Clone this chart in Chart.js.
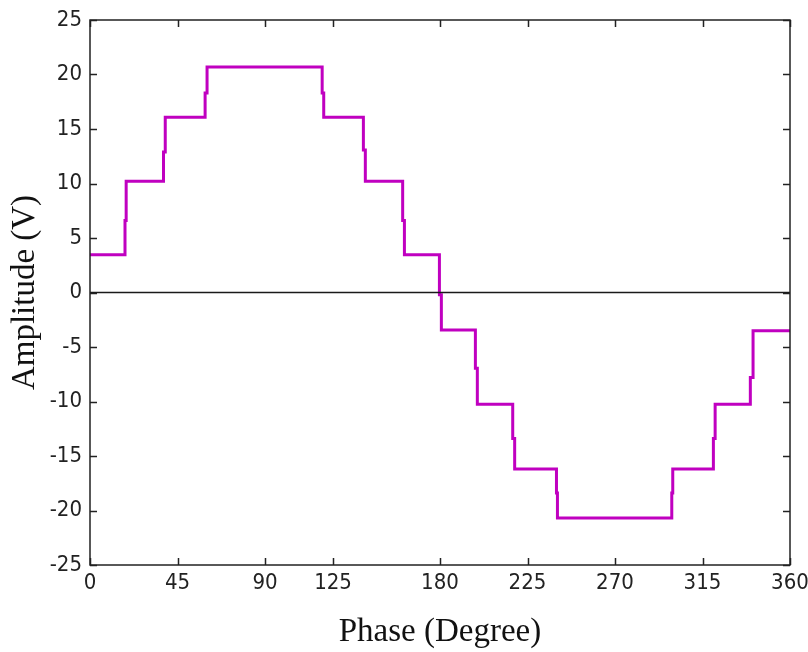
<!DOCTYPE html>
<html>
<head>
<meta charset="utf-8">
<title>Phase vs Amplitude</title>
<script src="https://cdn.jsdelivr.net/npm/chart.js@4/dist/chart.umd.min.js"></script>
<style>
  html, body { margin: 0; padding: 0; background: #fff; }
  #wrap { width: 808px; height: 652px; }
</style>
</head>
<body>
<div id="wrap"><canvas id="waveChart" width="808" height="652"></canvas></div>
<script>
// Staircase waveform, one period (degrees vs volts)
const phaseDeg = [
    0, 18.0, 18.0, 18.6, 18.6,
    37.8, 37.8, 38.7, 38.7,
    59.2, 59.2, 60.2, 60.2,
    119.4, 119.4, 120.2, 120.2,
    140.6, 140.6, 141.6, 141.6,
    160.8, 160.8, 161.7, 161.7,
    179.7, 179.7, 180.7, 180.7,
    198.2, 198.2, 199.2, 199.2,
    217.4, 217.4, 218.4, 218.4,
    239.9, 239.9, 240.4, 240.4,
    299.2, 299.2, 299.7, 299.7,
    320.6, 320.6, 321.5, 321.5,
    339.6, 339.6, 341.0, 341.0,
    360
];
const amplitudeV = [
    3.47, 3.47, 6.6, 6.6, 10.2,
    10.2, 12.9, 12.9, 16.08,
    16.08, 18.3, 18.3, 20.68,
    20.68, 18.3, 18.3, 16.08,
    16.08, 13.07, 13.07, 10.2,
    10.2, 6.6, 6.6, 3.47,
    3.47, -0.2, -0.2, -3.43,
    -3.43, -6.96, -6.96, -10.25,
    -10.25, -13.4, -13.4, -16.2,
    -16.2, -18.4, -18.4, -20.68,
    -20.68, -18.4, -18.4, -16.2,
    -16.2, -13.4, -13.4, -10.25,
    -10.25, -7.8, -7.8, -3.5,
    -3.5
];

// Zero reference line
const zeroPhase = [0, 360];
const zeroAmp = [0, 0];

const xTickValues = [0, 45, 90, 125, 180, 225, 270, 315, 360];
const xTickLabels = ['0', '45', '90', '125', '180', '225', '270', '315', '360'];

const tickFont = { family: "'Liberation Sans Narrow', 'DejaVu Sans Condensed', 'Liberation Sans', sans-serif", size: 22 };
const titleFont = { family: "'Liberation Serif', 'DejaVu Serif', serif", size: 33 };

// Box frame with inward tick marks on all four sides
const framePlugin = {
    id: 'frame',
    afterDraw(chart) {
        const { ctx, chartArea: a, scales } = chart;
        const len = 7;
        ctx.save();
        ctx.strokeStyle = '#222';
        ctx.lineWidth = 1.5;
        ctx.beginPath();
        scales.x.ticks.forEach(t => {
            const px = Math.round(scales.x.getPixelForValue(t.value)) + 0.5;
            ctx.moveTo(px, a.bottom); ctx.lineTo(px, a.bottom - len);
            ctx.moveTo(px, a.top); ctx.lineTo(px, a.top + len);
        });
        scales.y.ticks.forEach(t => {
            const py = Math.round(scales.y.getPixelForValue(t.value)) + 0.5;
            ctx.moveTo(a.left, py); ctx.lineTo(a.left + len, py);
            ctx.moveTo(a.right, py); ctx.lineTo(a.right - len, py);
        });
        ctx.stroke();
        ctx.strokeRect(a.left, a.top, a.right - a.left, a.bottom - a.top);
        ctx.restore();
    }
};

new Chart(document.getElementById('waveChart').getContext('2d'), {
    type: 'line',
    data: {
        datasets: [
            {
                label: 'zero',
                data: zeroPhase.map((p, i) => ({ x: p, y: zeroAmp[i] })),
                borderColor: '#1a1a1a',
                borderWidth: 1.6,
                pointRadius: 0,
                order: 0
            },
            {
                label: 'Amplitude',
                data: phaseDeg.map((p, i) => ({ x: p, y: amplitudeV[i] })),
                borderColor: '#C000C0',
                borderWidth: 3,
                pointRadius: 0,
                tension: 0,
                borderJoinStyle: 'miter',
                order: 1
            }
        ]
    },
    options: {
        responsive: false,
        animation: false,
        layout: { padding: { top: 20, right: 18, left: 0, bottom: 0 } },
        plugins: { legend: { display: false }, tooltip: { enabled: false } },
        scales: {
            x: {
                type: 'linear',
                min: 0,
                max: 360,
                afterBuildTicks: scale => {
                    scale.ticks = xTickValues.map(v => ({ value: v }));
                },
                afterFit: scale => {
                    scale.height = 87;
                    scale.paddingLeft = 0;
                    scale.paddingRight = 0;
                },
                grid: { display: false, drawTicks: false },
                border: { display: false },
                ticks: {
                    font: tickFont,
                    color: '#222',
                    padding: 5,
                    maxRotation: 0,
                    callback: v => xTickLabels[xTickValues.indexOf(v)]
                },
                title: {
                    display: true,
                    text: 'Phase (Degree)',
                    font: titleFont,
                    color: '#111',
                    padding: { top: 0, bottom: 0 }
                }
            },
            y: {
                min: -25,
                max: 25,
                afterFit: scale => {
                    scale.width = 90;
                    scale.paddingTop = 0;
                    scale.paddingBottom = 0;
                },
                grid: { display: false, drawTicks: false },
                border: { display: false },
                ticks: {
                    stepSize: 5,
                    font: tickFont,
                    color: '#222',
                    padding: 8
                },
                title: {
                    display: true,
                    text: 'Amplitude (V)',
                    font: titleFont,
                    color: '#111',
                    padding: { top: 6, bottom: 0 }
                }
            }
        }
    },
    plugins: [framePlugin]
});
</script>
</body>
</html>
